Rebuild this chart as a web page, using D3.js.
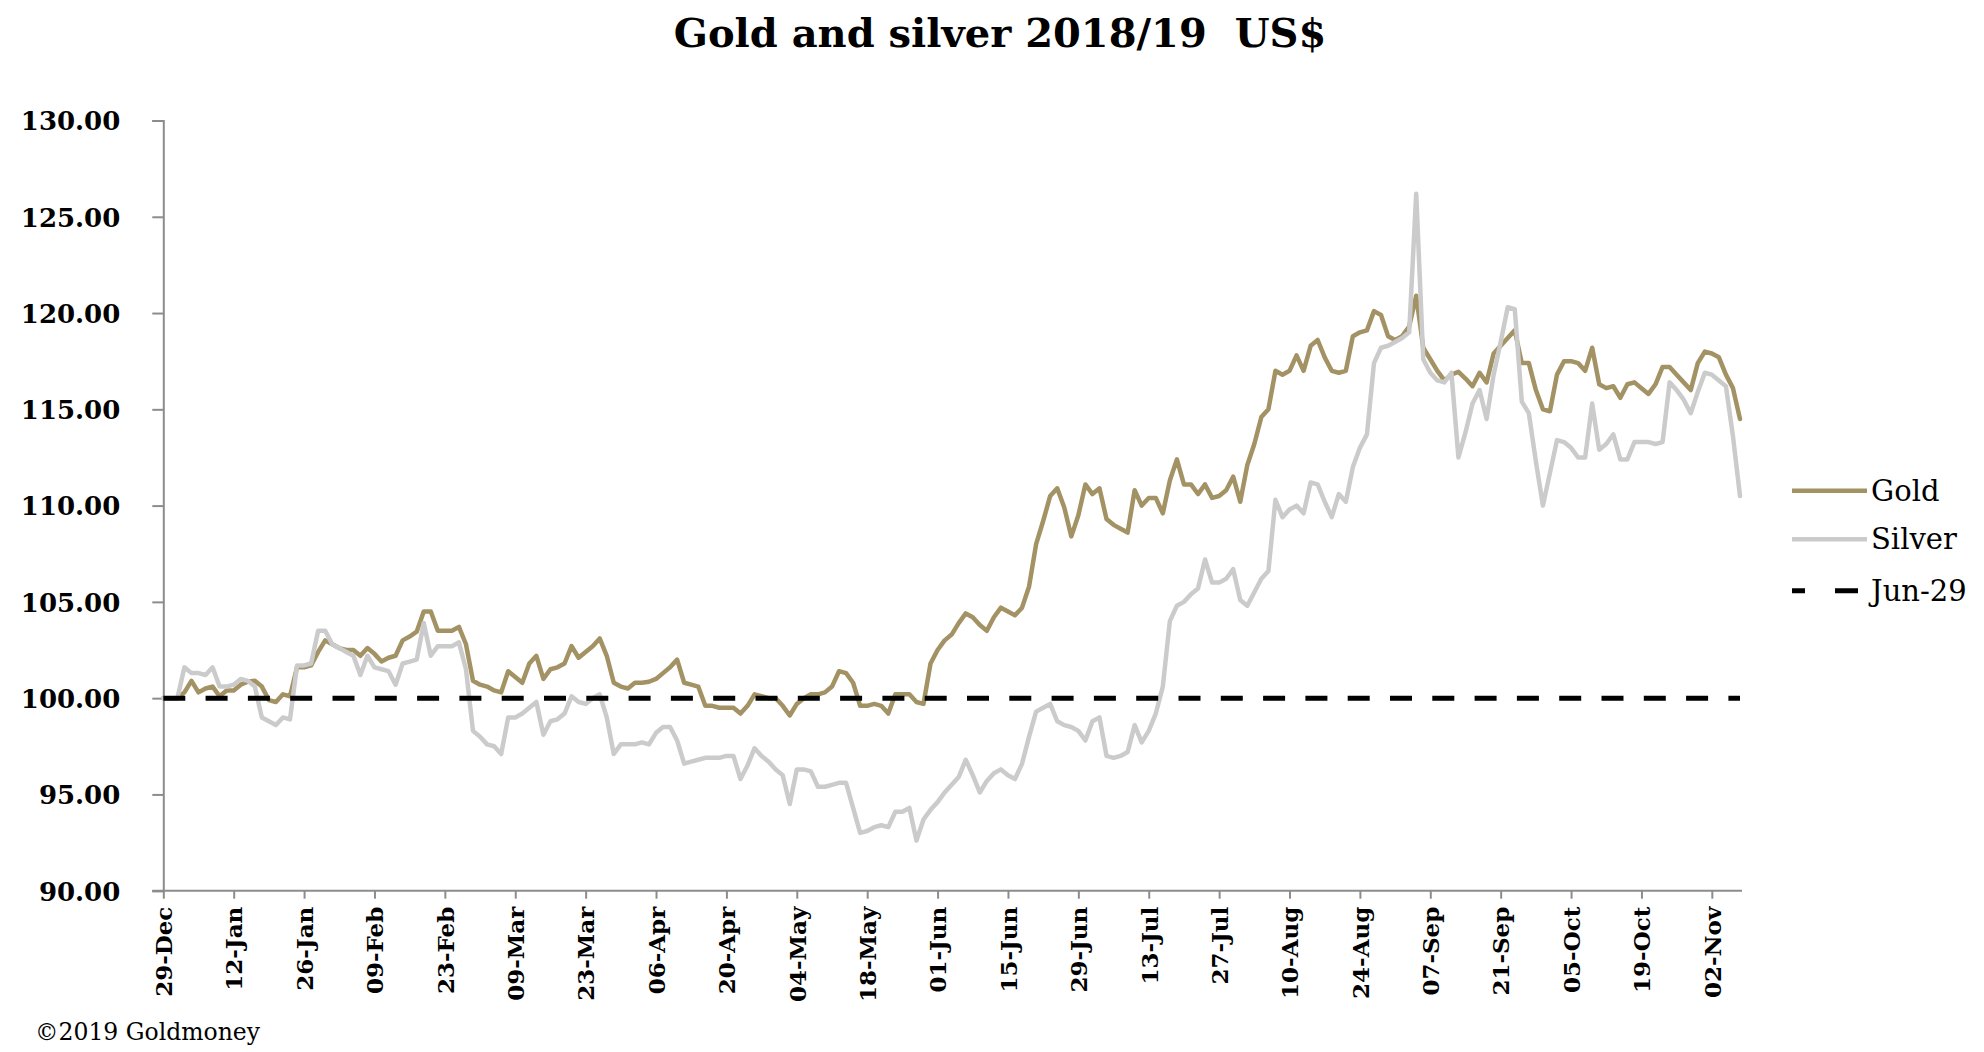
<!DOCTYPE html>
<html>
<head>
<meta charset="utf-8">
<script src="https://cdn.jsdelivr.net/npm/d3@7"></script>
<style>
  html, body { margin: 0; padding: 0; background: #ffffff; }
  svg { display: block; }
</style>
</head>
<body>
<script>
// ---- data ----
const title = "Gold and silver 2018/19\u00a0\u00a0US$";
const tickLabels = ["29-Dec","12-Jan","26-Jan","09-Feb","23-Feb","09-Mar","23-Mar","06-Apr","20-Apr","04-May","18-May","01-Jun","15-Jun","29-Jun","13-Jul","27-Jul","10-Aug","24-Aug","07-Sep","21-Sep","05-Oct","19-Oct","02-Nov"];
const yTicks = [90, 95, 100, 105, 110, 115, 120, 125, 130];
const seriesNames = ["Gold", "Silver", "Jun-29"];
const baseLevel = 100;

const gold = [
100.0,100.0,100.0,100.3,100.9,100.3,100.5,100.6,100.1,100.4,
100.4,100.7,100.85,100.9,100.6,99.9,99.8,100.2,100.1,101.6,
101.6,101.7,102.4,103.0,102.8,102.6,102.5,102.5,102.2,102.6,
102.3,101.9,102.1,102.2,103.0,103.2,103.45,104.5,104.5,103.5,
103.5,103.5,103.7,102.8,100.9,100.7,100.6,100.4,100.3,101.4,
101.1,100.8,101.8,102.2,101.0,101.5,101.6,101.8,102.7,102.1,
102.4,102.7,103.1,102.2,100.8,100.6,100.5,100.8,100.8,100.85,
101.0,101.3,101.6,102.0,100.8,100.7,100.6,99.6,99.6,99.5,
99.5,99.5,99.2,99.6,100.2,100.1,100.0,100.0,99.6,99.1,
99.7,100.0,100.2,100.2,100.3,100.6,101.4,101.3,100.8,99.6,
99.6,99.7,99.6,99.2,100.2,100.2,100.2,99.8,99.7,101.8,
102.5,103.0,103.3,103.9,104.4,104.2,103.8,103.5,104.2,104.7,
104.5,104.3,104.7,105.8,108.0,109.2,110.5,110.9,109.9,108.4,
109.5,111.1,110.6,110.9,109.3,109.0,108.8,108.6,110.8,110.0,
110.4,110.4,109.6,111.3,112.4,111.1,111.1,110.6,111.1,110.4,
110.5,110.8,111.5,110.2,112.1,113.2,114.6,115.0,117.0,116.8,
117.0,117.8,117.0,118.3,118.6,117.7,117.0,116.9,117.0,118.8,
119.0,119.1,120.1,119.9,118.8,118.6,118.8,119.3,120.9,118.2,
117.6,117.0,116.5,116.8,116.95,116.6,116.2,116.9,116.4,117.9,
118.3,118.7,119.1,117.4,117.4,116.0,115.0,114.9,116.8,117.5,
117.5,117.4,117.0,118.2,116.3,116.1,116.2,115.6,116.3,116.4,
116.1,115.8,116.3,117.2,117.2,116.8,116.4,116.0,117.4,118.0,
117.9,117.7,116.8,116.1,114.5
];

const silver = [
100.0,100.0,100.0,101.6,101.3,101.3,101.2,101.6,100.6,100.6,
100.7,101.0,100.9,100.6,99.0,98.8,98.6,99.0,98.9,101.7,
101.7,101.8,103.5,103.5,102.8,102.6,102.4,102.2,101.2,102.2,
101.6,101.5,101.4,100.7,101.8,101.9,102.0,103.9,102.2,102.7,
102.7,102.7,102.9,101.5,98.3,98.0,97.6,97.5,97.1,99.0,
99.0,99.2,99.5,99.8,98.1,98.8,98.9,99.2,100.1,99.8,
99.7,100.0,100.2,99.0,97.1,97.6,97.6,97.6,97.7,97.6,
98.2,98.5,98.5,97.8,96.6,96.7,96.8,96.9,96.9,96.9,
97.0,97.0,95.8,96.5,97.4,97.0,96.7,96.3,96.0,94.5,
96.3,96.3,96.2,95.4,95.4,95.5,95.6,95.6,94.3,93.0,
93.1,93.3,93.4,93.3,94.1,94.1,94.3,92.6,93.7,94.2,
94.6,95.1,95.5,95.9,96.8,96.0,95.1,95.7,96.1,96.3,
96.0,95.8,96.6,98.0,99.3,99.5,99.7,98.8,98.6,98.5,
98.3,97.8,98.8,99.0,97.0,96.9,97.0,97.2,98.6,97.7,
98.3,99.2,100.6,104.0,104.8,105.0,105.4,105.7,107.2,106.0,
106.0,106.2,106.7,105.1,104.8,105.5,106.2,106.6,110.3,109.4,
109.8,110.0,109.6,111.2,111.1,110.2,109.4,110.6,110.2,112.0,
113.0,113.7,117.4,118.2,118.3,118.5,118.7,119.0,126.2,117.6,
116.9,116.5,116.4,116.9,112.5,113.8,115.3,116.0,114.5,116.8,
118.5,120.3,120.2,115.4,114.8,112.3,110.0,111.7,113.4,113.3,
113.0,112.5,112.5,115.3,112.9,113.2,113.7,112.4,112.4,113.3,
113.3,113.3,113.2,113.3,116.4,116.0,115.5,114.8,115.9,116.9,
116.8,116.5,116.2,113.6,110.5
];

// ---- layout ----
const W = 1984, H = 1052;
const plot = { left: 163.3, right: 1740, top: 120.5, bottom: 890.7 };
const colors = { gold: "#a39264", silver: "#cbcbcb", dash: "#000000", axis: "#8c8c8c" };
const serif = "'DejaVu Serif', serif";

const svg = d3.select("body").append("svg").attr("width", W).attr("height", H);
svg.append("rect").attr("width", W).attr("height", H).attr("fill", "#fff");

const x = d3.scaleLinear().domain([0, gold.length - 1]).range([plot.left, plot.right]);
const y = d3.scaleLinear().domain([90, 130]).range([plot.bottom, plot.top]);

// title
svg.append("text")
  .attr("x", 1000).attr("y", 47)
  .attr("text-anchor", "middle")
  .style("font-family", serif).style("font-weight", "bold").style("font-size", "40px")
  .attr("fill", "#000")
  .text(title);

// y axis
const yAxis = d3.axisLeft(y).tickValues(yTicks).tickFormat(d3.format(".2f")).tickSize(11).tickPadding(32);
const gy = svg.append("g").attr("transform", `translate(${plot.left},0)`).call(yAxis);
gy.select(".domain").attr("stroke", colors.axis).attr("stroke-width", 2);
gy.selectAll(".tick line").attr("stroke", colors.axis).attr("stroke-width", 2);
gy.selectAll(".tick text")
  .style("font-family", serif).style("font-weight", "bold").style("font-size", "26px")
  .attr("fill", "#000").attr("dy", "0.36em");

// x axis
const xTickVals = tickLabels.map((d, i) => i * 10);
const xAxis = d3.axisBottom(x).tickValues(xTickVals).tickFormat((d, i) => tickLabels[i]).tickSize(8).tickSizeOuter(0);
const gx = svg.append("g").attr("transform", `translate(0,${plot.bottom})`).call(xAxis);
gx.select(".domain").attr("stroke", colors.axis).attr("stroke-width", 2)
  .attr("d", `M${plot.left - 11},0H${plot.right + 2}`);
gx.selectAll(".tick line").attr("stroke", colors.axis).attr("stroke-width", 2);
gx.selectAll(".tick text")
  .style("font-family", serif).style("font-weight", "bold").style("font-size", "23px")
  .attr("fill", "#000")
  .attr("text-anchor", "end")
  .attr("transform", "rotate(-90)")
  .attr("x", -16).attr("y", 0).attr("dy", "0.36em");

// lines
const line = d3.line().x((d, i) => x(i)).y(d => y(d)).curve(d3.curveLinear);
svg.append("path").datum(gold).attr("d", line)
  .attr("fill", "none").attr("stroke", colors.gold).attr("stroke-width", 4.5)
  .attr("stroke-linejoin", "round").attr("stroke-linecap", "round");
svg.append("path").datum(silver).attr("d", line)
  .attr("fill", "none").attr("stroke", colors.silver).attr("stroke-width", 4.5)
  .attr("stroke-linejoin", "round").attr("stroke-linecap", "round");
const baseline = gold.map(() => baseLevel);
svg.append("path").datum(baseline).attr("d", line)
  .attr("fill", "none").attr("stroke", colors.dash).attr("stroke-width", 5)
  .attr("stroke-dasharray", "22,20.3");

// legend
const legend = svg.append("g");
const legItems = [
  { name: seriesNames[0], color: colors.gold, y: 490.7, dash: null, w: 4.5 },
  { name: seriesNames[1], color: colors.silver, y: 539.3, dash: null, w: 4.5 },
  { name: seriesNames[2], color: colors.dash, y: 590.7, dash: "13,30,23,100", w: 5 }
];
legItems.forEach(it => {
  legend.append("line").attr("x1", 1792).attr("x2", 1867).attr("y1", it.y).attr("y2", it.y)
    .attr("stroke", it.color).attr("stroke-width", it.w)
    .attr("stroke-dasharray", it.dash);
  legend.append("text").attr("x", 1871).attr("y", it.y + 10)
    .style("font-family", serif).style("font-size", "29px").attr("fill", "#000")
    .text(it.name);
});

// footer
svg.append("text").attr("x", 35).attr("y", 1040)
  .style("font-family", serif).style("font-size", "23.5px").attr("fill", "#000")
  .text("\u00a92019 Goldmoney");
</script>
</body>
</html>
